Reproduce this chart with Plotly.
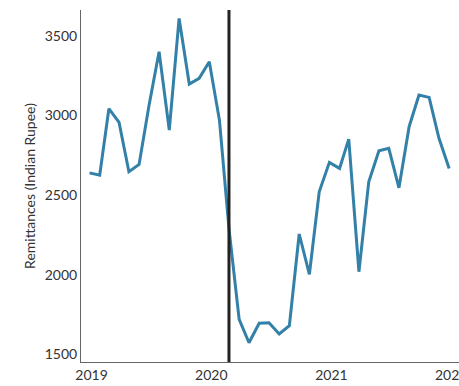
import plotly.graph_objects as go
import pandas as pd

months = pd.date_range("2019-01-01", "2022-01-01", freq="MS").strftime("%Y-%m-%d").tolist()
remittances = [2640, 2625, 3043, 2957, 2647, 2693, 3060, 3401, 2909, 3610,
               3198, 3234, 3338, 2970, 2290, 1720, 1573, 1695, 1698, 1628,
               1680, 2256, 2003, 2521, 2706, 2668, 2852, 2019, 2584, 2779,
               2794, 2546, 2930, 3129, 3114, 2857, 2668]
event_date = "2020-03-01"
y_title = "Remittances (Indian Rupee)"
x_range = ["2018-12-06", "2022-01-31"]
y_range = [1452, 3663]

fig = go.Figure()
fig.add_trace(go.Scatter(x=months, y=remittances, mode="lines",
                         line=dict(color="#3380a8", width=3), showlegend=False,
                         hoverinfo="skip"))
fig.add_shape(type="line", x0=event_date, x1=event_date, y0=0, y1=1,
              xref="x", yref="paper", line=dict(color="#222222", width=3))

font = dict(family="Lato, 'Source Sans Pro', sans-serif", size=14, color="#333333")
fig.update_layout(
    width=459, height=386,
    margin=dict(l=81, r=0, t=10, b=24),
    plot_bgcolor="white", paper_bgcolor="white",
    font=font,
)
fig.update_xaxes(type="date", range=x_range, showgrid=False, zeroline=False,
                 showline=True, linecolor="#666666", linewidth=1, automargin=False,
                 tickvals=["2019-01-01", "2020-01-01", "2021-01-01", "2022-01-01"],
                 ticktext=["2019", "2020", "2021", "2022"], ticklabelshift=2,
                 ticks="", ticklabeloverflow="allow", tickfont=font)
fig.update_yaxes(range=y_range, showgrid=False, zeroline=False, automargin=False,
                 showline=True, linecolor="#666666", linewidth=1,
                 tickvals=[1500, 2000, 2500, 3000, 3500], ticks="",
                 title=dict(text=y_title, font=font, standoff=5), tickfont=font)

fig.write_html("out.html", config={"displayModeBar": False},
               post_script="document.body.style.margin='0';")
